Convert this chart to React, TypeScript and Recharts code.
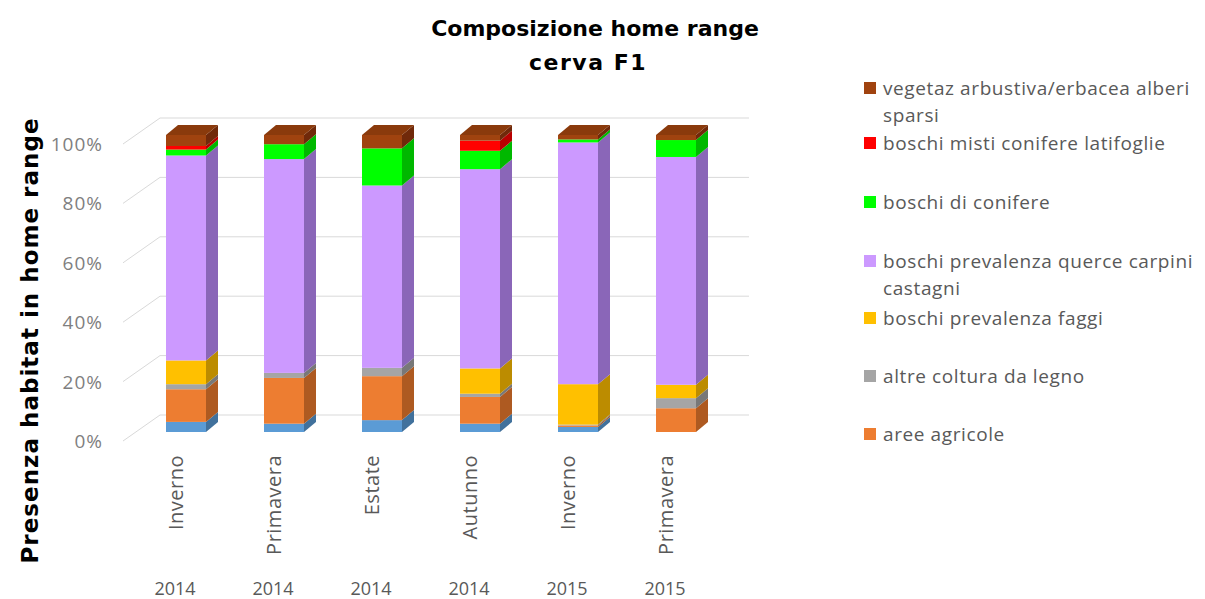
import React from 'react';
import { BarChart, Bar, XAxis, YAxis, CartesianGrid } from 'recharts';

const seasons = ['Inverno', 'Primavera', 'Estate', 'Autunno', 'Inverno', 'Primavera'];
const years = ['2014', '2014', '2014', '2014', '2015', '2015'];

// percentuali (dal basso verso l'alto)
const areeUrbane = [3.4, 2.8, 4.0, 2.8, 1.7, 0];
const areeAgricole = [11.0, 15.4, 14.8, 9.0, 0.5, 8.0];
const altreColtura = [1.7, 1.7, 2.8, 1.1, 0.3, 3.4];
const boschiFaggi = [8.0, 0, 0, 8.5, 13.6, 4.5];
const boschiQuerce = [69.0, 72.0, 61.4, 67.1, 81.4, 76.7];
const boschiConifere = [2.0, 5.0, 12.5, 6.2, 1.0, 5.7];
const boschiMisti = [1.2, 0, 0, 3.4, 0, 0];
const vegetaz = [3.7, 3.1, 4.5, 1.9, 1.5, 1.7];

const yTicks = [0, 0.2, 0.4, 0.6, 0.8, 1];

const series = [
  { key: 'urbane', name: 'aree urbane', values: areeUrbane, color: '#5B9BD5', side: '#41719C' },
  { key: 'agricole', name: 'aree agricole', values: areeAgricole, color: '#ED7D31', side: '#AE5A21' },
  { key: 'legno', name: 'altre coltura da legno', values: altreColtura, color: '#A5A5A5', side: '#787878' },
  { key: 'faggi', name: 'boschi prevalenza faggi', values: boschiFaggi, color: '#FFC000', side: '#BC8C00' },
  { key: 'querce', name: 'boschi prevalenza querce carpini castagni', values: boschiQuerce, color: '#CC99FF', side: '#8A66B8' },
  { key: 'conifere', name: 'boschi di conifere', values: boschiConifere, color: '#00FF00', side: '#00B800' },
  { key: 'misti', name: 'boschi misti conifere latifoglie', values: boschiMisti, color: '#FF0000', side: '#B80000' },
  { key: 'vegetaz', name: 'vegetaz arbustiva/erbacea alberi sparsi', values: vegetaz, color: '#A0430F', side: '#70290A' },
];

const data = seasons.map((s, i) => {
  const row: Record<string, any> = { label: `${s} ${years[i]}`, season: s, year: years[i] };
  series.forEach(sr => { row[sr.key] = sr.values[i]; });
  return row;
});

const DX = 12;
const DY = 10;
const tickFont = '"Open Sans", sans-serif';

const Box3D = (props: any) => {
  const { x, y, width, height, color, side, top } = props;
  if (!height || height <= 0) return null;
  return (
    <g>
      <rect x={x} y={y} width={width} height={height} fill={color} />
      <polygon
        points={`${x + width},${y} ${x + width + DX},${y - DY} ${x + width + DX},${y + height - DY} ${x + width},${y + height}`}
        fill={side}
      />
      {top && (
        <polygon
          points={`${x},${y} ${x + DX},${y - DY} ${x + width + DX},${y - DY} ${x + width},${y}`}
          fill="#8A3A0C"
        />
      )}
    </g>
  );
};

// linee della griglia sulla parete di fondo, con il tratto obliquo verso l'etichetta
const GridLine = (props: any) => {
  const { x1, y1, x2 } = props;
  return (
    <g>
      <line x1={x1 - 14} y1={y1 + 9} x2={x1 + 23} y2={y1 - 17} stroke="#d9d9d9" strokeWidth={1} />
      <line x1={x1 + 23} y1={y1 - 17} x2={x2 + 24} y2={y1 - 17} stroke="#d9d9d9" strokeWidth={1} />
    </g>
  );
};

const PctTick = (props: any) => {
  const { y, payload } = props;
  return (
    <text
      x={103}
      y={y + 9}
      textAnchor="end"
      dominantBaseline="central"
      fontFamily={tickFont}
      fontSize={19}
      letterSpacing={1}
      fill="#7f7f7f"
    >
      {`${Math.round(payload.value * 100)}%`}
    </text>
  );
};

const SeasonTick = (props: any) => {
  const { x, y, index } = props;
  const cx = x - 11;
  return (
    <g>
      <text
        x={cx}
        y={y + 15}
        transform={`rotate(-90 ${cx} ${y + 15})`}
        textAnchor="end"
        dominantBaseline="central"
        fontFamily={tickFont}
        fontSize={20}
        letterSpacing={0.5}
        fill="#595959"
      >
        {seasons[index]}
      </text>
      <text x={cx} y={y + 155} textAnchor="middle" fontFamily={tickFont} fontSize={18} fill="#595959">
        {years[index]}
      </text>
    </g>
  );
};

const legendRows = [
  { key: 'vegetaz', lines: ['vegetaz arbustiva/erbacea alberi', 'sparsi'], y: 88 },
  { key: 'misti', lines: ['boschi misti conifere latifoglie'], y: 143 },
  { key: 'conifere', lines: ['boschi di conifere'], y: 202 },
  { key: 'querce', lines: ['boschi prevalenza querce carpini', 'castagni'], y: 261 },
  { key: 'faggi', lines: ['boschi prevalenza faggi'], y: 318 },
  { key: 'legno', lines: ['altre coltura da legno'], y: 376 },
  { key: 'agricole', lines: ['aree agricole'], y: 434 },
];

const App: React.FC = () => {
  return (
    <div style={{ position: 'absolute', left: 0, top: 0, width: 1205, height: 599, background: '#fff' }}>
      <BarChart
        width={1205}
        height={599}
        data={data}
        stackOffset="expand"
        barSize={40}
        margin={{ top: 135, right: 480, bottom: 17, left: 77 }}
      >
        <CartesianGrid vertical={false} horizontal={GridLine} />
        <XAxis dataKey="label" height={150} axisLine={false} tickLine={false} tick={SeasonTick} interval={0} />
        <YAxis
          width={60}
          domain={[0, 1]}
          ticks={yTicks}
          axisLine={false}
          tickLine={false}
          tick={PctTick}
        />
        {series.map((sr, i) => (
          <Bar
            key={sr.key}
            dataKey={sr.key}
            name={sr.name}
            stackId="a"
            isAnimationActive={false}
            shape={(p: any) => <Box3D {...p} color={sr.color} side={sr.side} top={i === series.length - 1} />}
          />
        ))}
      </BarChart>

      <svg width={1205} height={599} style={{ position: 'absolute', left: 0, top: 0, pointerEvents: 'none' }}>
        <text x={595} y={36} textAnchor="middle" fontFamily='"DejaVu Sans", sans-serif' fontWeight="bold" fontSize={22} fill="#000">
          Composizione home range
        </text>
        <text x={588} y={70} textAnchor="middle" fontFamily='"DejaVu Sans", sans-serif' fontWeight="bold" fontSize={22} letterSpacing={1.5} fill="#000">
          cerva F1
        </text>
        <text
          x={30}
          y={341}
          transform="rotate(-90 30 341)"
          textAnchor="middle"
          dominantBaseline="central"
          fontFamily='"DejaVu Sans", sans-serif'
          fontWeight="bold"
          fontSize={23}
          textLength={445}
          lengthAdjust="spacing"
          fill="#000"
        >
          Presenza habitat in home range
        </text>
        {legendRows.map(row => {
          const sr = series.find(s => s.key === row.key)!;
          return (
            <g key={row.key}>
              <rect x={864} y={row.y - 6} width={12} height={12} fill={sr.color} />
              {row.lines.map((ln, j) => (
                <text
                  key={j}
                  x={883}
                  y={row.y + j * 27}
                  dominantBaseline="central"
                  fontFamily={tickFont}
                  fontSize={19}
                  letterSpacing={0.6}
                  fill="#595959"
                >
                  {ln}
                </text>
              ))}
            </g>
          );
        })}
      </svg>
    </div>
  );
};

export default App;
